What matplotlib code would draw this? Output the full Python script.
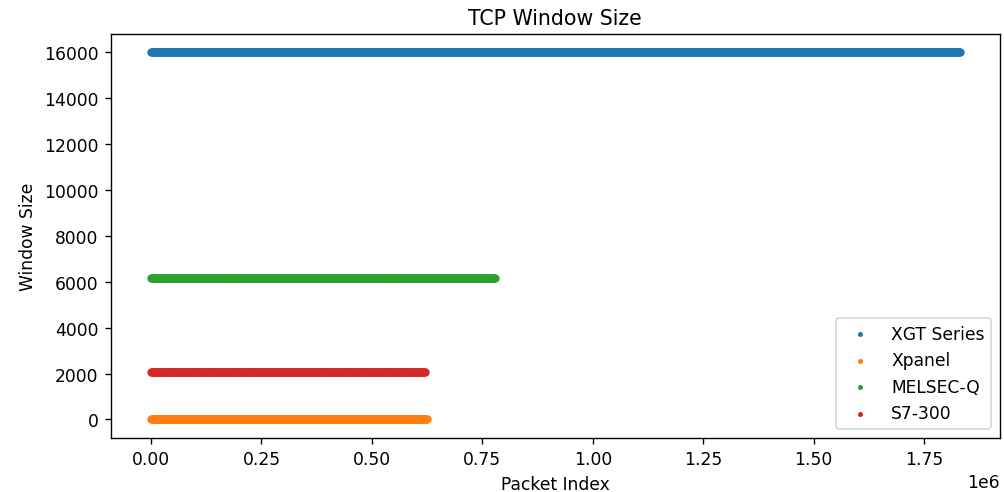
import numpy as np
import matplotlib
matplotlib.use("Agg")
import matplotlib.pyplot as plt

# one entry per device: name, observed window size, last packet index seen
devices = ["XGT Series", "Xpanel", "MELSEC-Q", "S7-300"]
window_sizes = [16000, 0, 6144, 2048]
last_index = [1831000, 624000, 779000, 621000]
colors = ["#1f77b4", "#ff7f0e", "#2ca02c", "#d62728"]

step = 2000  # plot every n-th packet, the rest overlap anyway

DPI = 123
fig, ax = plt.subplots(figsize=(1005 / DPI, 493 / DPI), dpi=DPI)
fig.subplots_adjust(left=0.110, right=0.995, top=0.929, bottom=0.110)

for name, w, n, c in zip(devices, window_sizes, last_index, colors):
    idx = np.arange(0, n + 1, step)
    ax.scatter(idx, np.full(len(idx), w), s=24, linewidths=0, color=c, label=name)

ax.set_title("TCP Window Size")
ax.set_xlabel("Packet Index")
ax.set_ylabel("Window Size")
ax.legend(loc="lower right", markerscale=0.6)

fig.savefig("out.png", dpi=DPI)
